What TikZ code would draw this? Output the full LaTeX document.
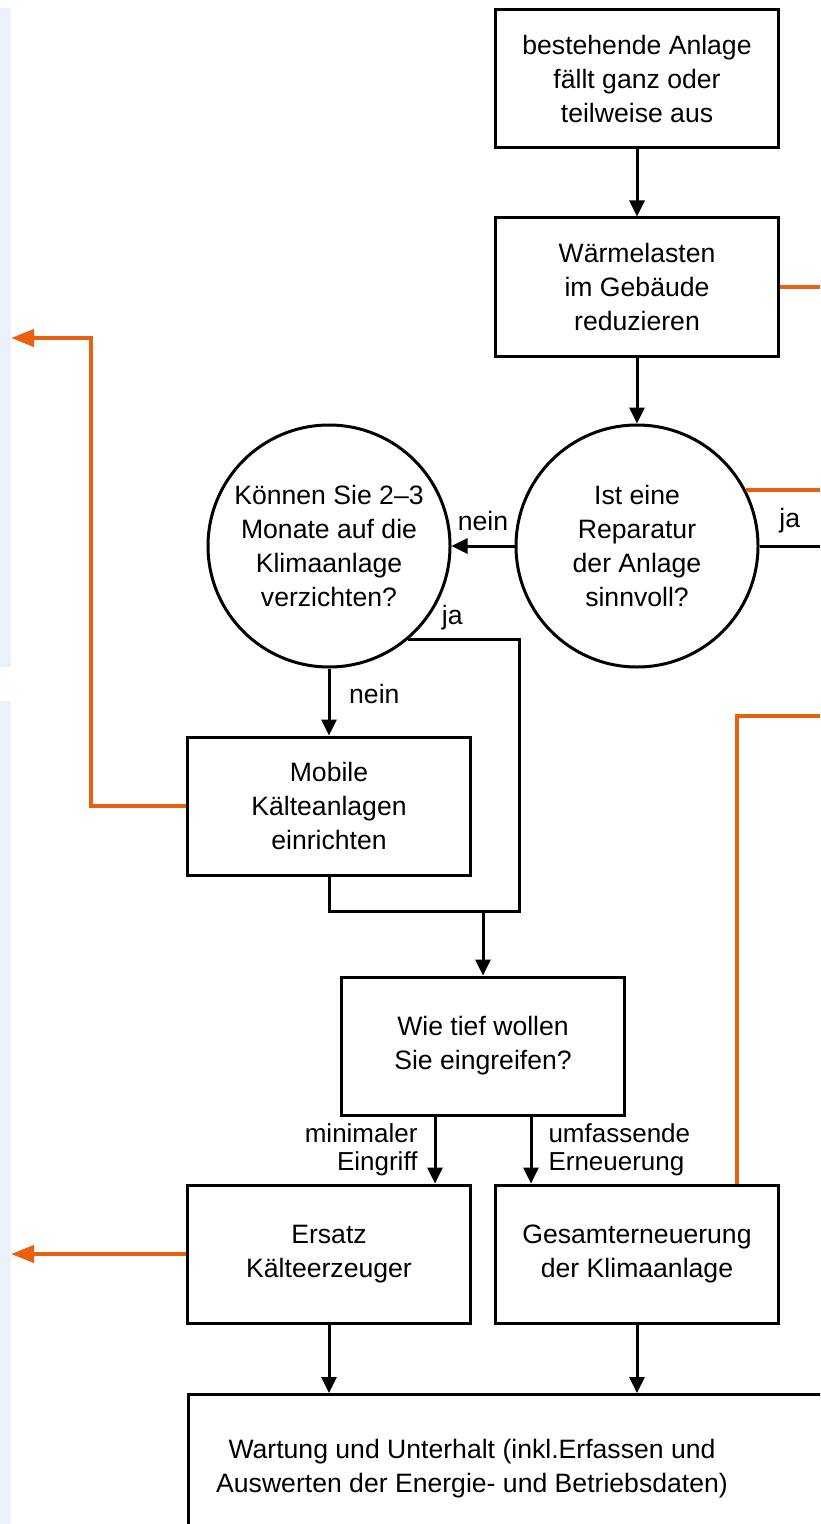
\documentclass[tikz,border=0pt]{standalone}
\usepackage{fontspec}
\setmainfont{Liberation Sans}
\usetikzlibrary{arrows.meta}
\definecolor{orng}{HTML}{E9600E}
\definecolor{panel}{HTML}{EBF2FB}

\begin{document}
\begin{tikzpicture}[x=0.5pt,y=-0.5pt,
  font=\fontsize{13.3}{17}\selectfont,
  box/.style={draw,line width=1.5pt,minimum width=141.5pt,minimum height=69pt,align=center,inner sep=0pt},
  question/.style={draw,circle,line width=1.5pt,minimum size=121pt,align=center,inner sep=0pt},
  line/.style={line width=1.5pt},
  arrow/.style={line,-{Triangle[length=8pt,width=7.5pt]}},
  hint/.style={line width=2pt,draw=orng},
  hintarrow/.style={hint,-{Triangle[length=11.5pt,width=8.5pt]}},
  note/.style={align=center,inner sep=0pt},
  small/.style={font=\fontsize{13}{14}\selectfont,inner sep=0pt}]
  \clip (0,0) rectangle (820,1524);
  \fill[panel] (0,8) rectangle (11,667);
  \fill[panel] (0,701) rectangle (11,1524);

  \coordinate (rand) at (820,0);
  \coordinate (links) at (11,0);
  \coordinate (zusammen) at (519,911);
  \coordinate (knick) at (91,338);
  \coordinate (oben) at (737,716);

  \node[box] (ausfall) at (637,79) {bestehende Anlage\\fällt ganz oder\\teilweise aus};
  \node[box] (lasten) at (637,287) {Wärmelasten\\im Gebäude\\reduzieren};
  \node[question] (reparatur) at (637,546) {Ist eine\\Reparatur\\der Anlage\\sinnvoll?};
  \node[question] (verzicht) at (329,546) {Können Sie 2–3\\Monate auf die\\Klimaanlage\\verzichten?};
  \node[box] (mobil) at (329,806) {Mobile\\Kälteanlagen\\einrichten};
  \node[box] (tiefe) at (483,1046) {Wie tief wollen\\Sie eingreifen?};
  \node[box] (ersatz) at (329,1254) {Ersatz\\Kälteerzeuger};
  \node[box] (gesamt) at (637,1254) {Gesamterneuerung\\der Klimaanlage};
  \node[box,anchor=north west,minimum width=340pt,minimum height=80pt] (wartung) at (187,1393) {};
  \node[note] (wartungtext) at (472,1469) {Wartung und Unterhalt (inkl.Erfassen und\\Auswerten der Energie- und Betriebsdaten)};

  \draw[arrow] (ausfall) -- (lasten);
  \draw[arrow] (lasten) -- (reparatur);
  \draw[arrow] (reparatur) -- node[midway,yshift=12.5pt] {nein} (verzicht);
  \draw[line] (reparatur.east) -- node[midway,yshift=12.5pt] {ja} (reparatur.east -| rand);
  \draw[arrow] (verzicht) -- node[midway,right=6pt,yshift=4pt] {nein} (mobil);
  \draw[line] (verzicht.-50) -- node[pos=0.4,yshift=11pt] {ja} (verzicht.-50 -| zusammen) -- (zusammen) -| (mobil.south);
  \draw[arrow] (tiefe.north |- zusammen) -- (tiefe);
  \draw[arrow] ([xshift=-24pt]tiefe.south) -- node[midway,left=8pt,small,align=right] {minimaler\\Eingriff} ([xshift=-24pt]tiefe.south |- ersatz.north);
  \draw[arrow] ([xshift=24pt]tiefe.south) -- node[midway,right=8pt,small,align=left] {umfassende\\Erneuerung} ([xshift=24pt]tiefe.south |- gesamt.north);
  \draw[arrow] (ersatz) -- (ersatz |- wartung.north);
  \draw[arrow] (gesamt) -- (gesamt |- wartung.north);

  \draw[hint] (lasten.east) -- (lasten.east -| rand);
  \draw[hint] (reparatur.27) -- (reparatur.27 -| rand);
  \draw[hintarrow] (mobil.west) -| (knick) -- (knick -| links);
  \draw[hintarrow] (ersatz.west) -- (ersatz.west -| links);
  \draw[hint] (gesamt.north -| oben) -- (oben) -- (oben -| rand);
\end{tikzpicture}
\end{document}
